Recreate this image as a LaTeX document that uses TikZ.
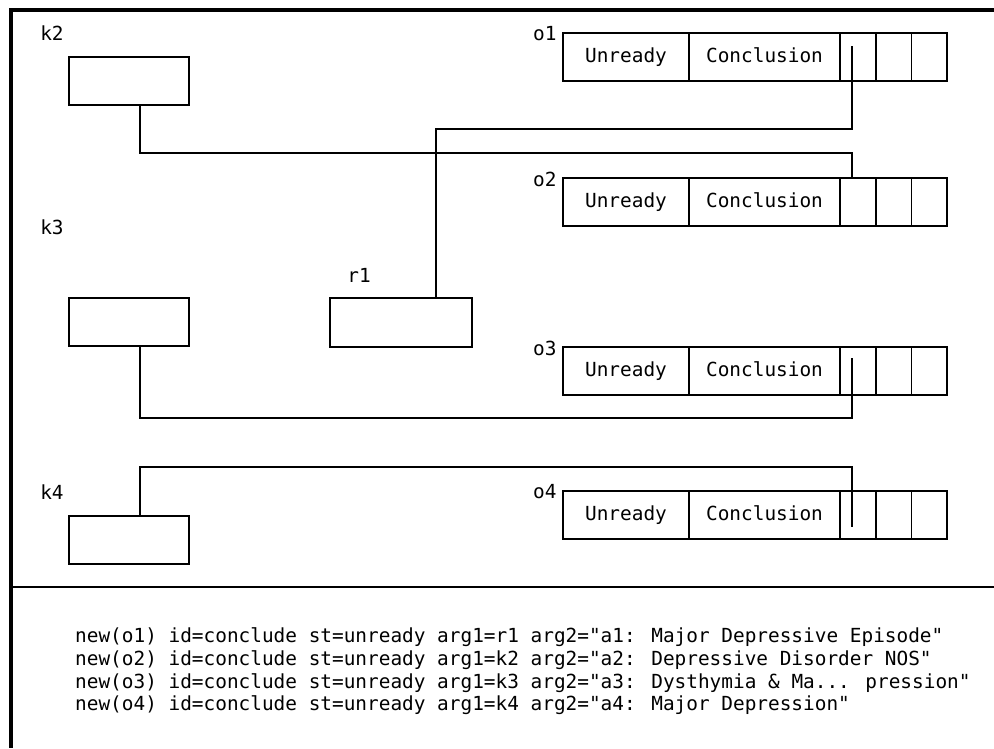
\documentclass[tikz,border=0pt]{standalone}
\usepackage{fontspec}
\usepackage{tikz}
\usetikzlibrary{calc,positioning}
\newfontfamily\monofont{DejaVu Sans Mono}
\definecolor{ink}{HTML}{000000}
\definecolor{paper}{HTML}{FFFFFF}
\tikzset{
  frame/.style={draw=ink, line width=3.5pt},
  rule/.style={draw=ink, line width=2pt},
  obj/.style={draw=ink, line width=1.6pt, minimum width=120pt, minimum height=48pt, inner sep=0pt, outer sep=0pt},
  cell/.style={draw=ink, line width=1.6pt, minimum height=48pt, inner sep=0pt, outer sep=0pt,
    text height=14pt, text depth=4pt, text=ink, font=\monofont\fontsize{19.4}{23}\selectfont},
  wire/.style={draw=ink, line width=1.6pt},
  lab/.style={text=ink, font=\monofont\fontsize{19.4}{23}\selectfont},
  cmd/.style={lab, anchor=west, inner sep=0pt},
}

\begin{document}
\begin{tikzpicture}[x=1pt,y=-1pt]
  \useasboundingbox[fill=paper] (0,0) rectangle (994,748);

  % frame
  \draw[frame] (9,10) -- (994,10);
  \draw[frame] (11,8) -- (11,748);
  \draw[rule] (11,587) -- (994,587);

  % inputs
  \node[obj, anchor=north west] (k2) at (69,57) {};
  \node[obj, anchor=north west] (k3) at (69,298) {};
  \node[obj, anchor=north west] (k4) at (69,516) {};
  \node[obj, anchor=north west, minimum width=142pt, minimum height=49pt] (r1) at (330,298) {};
  \node[lab] (k2lab) at (52,33) {k2};
  \node[lab] (k3lab) at (52,227) {k3};
  \node[lab] (k4lab) at (52,492) {k4};
  \node[lab] (r1lab) at (359,275) {r1};

  % conclude objects
  \foreach \i/\y in {1/33,2/178,3/347,4/491}{
    \node[lab, anchor=east] (o\i-lab) at (560,\y+1) {o\i};
    \node[cell, minimum width=126pt, anchor=north west] (o\i-u) at (563,\y) {Unready};
    \node[cell, minimum width=151pt, right=0pt of o\i-u] (o\i-c) {Conclusion};
    \node[cell, minimum width=35.7pt, right=0pt of o\i-c] (o\i-a) {};
    \node[cell, minimum width=35.7pt, right=0pt of o\i-a] (o\i-b) {};
    \node[cell, minimum width=35.7pt, right=0pt of o\i-b] (o\i-d) {};
  }

  \coordinate (pin1) at ($(o1-a.north west)+(12,13)$);
  \coordinate (pin2) at ($(o2-a.north west)+(12,0)$);
  \coordinate (pin3) at ($(o3-a.north west)+(12,11)$);
  \coordinate (pin4) at ($(o4-a.north west)+(12,36)$);

  \draw[wire] ([xshift=35pt]r1.north) -- ++(0,-169) -| (pin1);
  \draw[wire] ([xshift=11pt]k2.south) -- ++(0,48) -| (pin2);
  \draw[wire] ([xshift=11pt]k3.south) -- ++(0,72) -| (pin3);
  \draw[wire] ([xshift=11pt]k4.north) -- ++(0,-49) -| (pin4);

  % trace
  \node[cmd] (cmd1) at (75,637) {new(o1) id=conclude st=unready arg1=r1 arg2="a1: Major Depressive Episode"};
  \node[cmd] (cmd2) at (75,660) {new(o2) id=conclude st=unready arg1=k2 arg2="a2: Depressive Disorder NOS"};
  \node[cmd] (cmd3) at (75,683) {new(o3) id=conclude st=unready arg1=k3 arg2="a3: Dysthymia \& Ma... pression"};
  \node[cmd] (cmd4) at (75,705) {new(o4) id=conclude st=unready arg1=k4 arg2="a4: Major Depression"};
\end{tikzpicture}
\end{document}
